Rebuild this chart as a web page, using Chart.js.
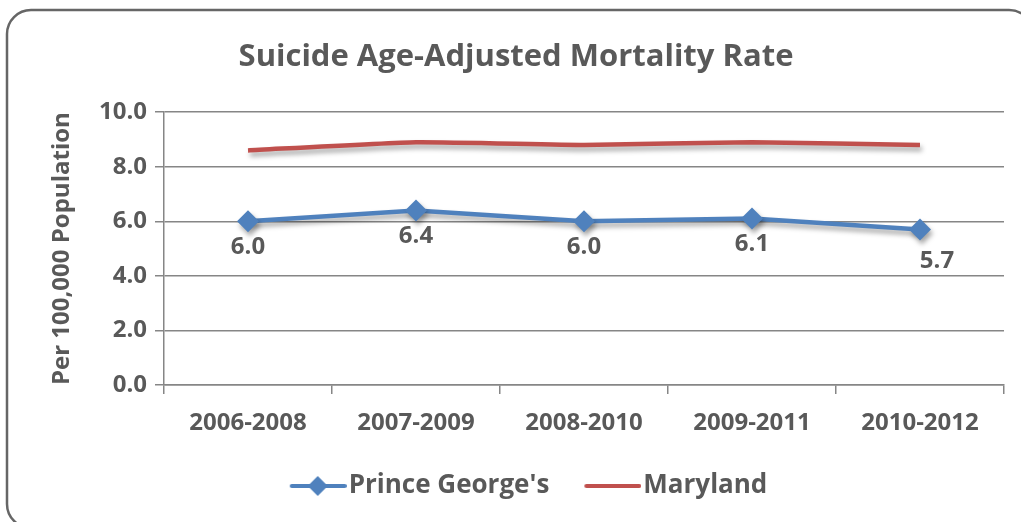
<!DOCTYPE html>
<html>
<head>
<meta charset="utf-8">
<script src="https://cdn.jsdelivr.net/npm/chart.js@4.4.0/dist/chart.umd.min.js"></script>
<style>
  html, body { margin: 0; padding: 0; background: #fff; }
  #wrap { width: 1021px; height: 522px; }
</style>
</head>
<body>
<div id="wrap"><canvas id="chart" width="1021" height="522"></canvas></div>
<script>
const periods = ['2006-2008', '2007-2009', '2008-2010', '2009-2011', '2010-2012'];
const princeGeorges = [6.0, 6.4, 6.0, 6.1, 5.7];
const maryland = [8.6, 8.9, 8.8, 8.9, 8.8];
const yTicks = [0, 2, 4, 6, 8, 10];

const textGrey = '#595959';
const blue = '#4F81BD';
const red = '#C0504D';
const fontFam = '"Open Sans", Lato, sans-serif';

// legend swatches: image is centred on a 71px box, the line sits at its right end
function swatch(color, withDiamond) {
  const c = document.createElement('canvas');
  c.width = 93; c.height = 22;
  const g = c.getContext('2d');
  g.strokeStyle = color;
  g.lineWidth = 4;
  g.lineCap = 'round';
  g.beginPath(); g.moveTo(38, 11); g.lineTo(91, 11); g.stroke();
  if (withDiamond) {
    g.fillStyle = color;
    g.beginPath();
    g.moveTo(64, 1); g.lineTo(74, 11); g.lineTo(64, 21); g.lineTo(54, 11);
    g.closePath(); g.fill();
  }
  return c;
}
const pgSwatch = swatch(blue, true);
const mdSwatch = swatch(red, false);

const frame = {
  id: 'frame',
  beforeDraw(chart) {
    const ctx = chart.ctx;
    ctx.save();
    ctx.fillStyle = '#fff';
    ctx.fillRect(0, 0, chart.width, chart.height);
    ctx.strokeStyle = '#666';
    ctx.lineWidth = 2.5;
    ctx.beginPath();
    ctx.roundRect(7, 10, 1026, 518, 24);
    ctx.stroke();
    ctx.restore();
  }
};

// soft shadow under both lines
const shadow = {
  id: 'shadow',
  beforeDatasetDraw(chart) {
    const ctx = chart.ctx;
    ctx.save();
    ctx.shadowColor = 'rgba(0,0,0,0.35)';
    ctx.shadowBlur = 5;
    ctx.shadowOffsetX = 2;
    ctx.shadowOffsetY = 4;
  },
  afterDatasetDraw(chart) {
    chart.ctx.restore();
  }
};

// value labels under Prince George's points
const valueLabels = {
  id: 'valueLabels',
  afterDatasetsDraw(chart) {
    const ctx = chart.ctx;
    const meta = chart.getDatasetMeta(0);
    ctx.save();
    ctx.font = 'bold 24px ' + fontFam;
    ctx.fillStyle = textGrey;
    ctx.textAlign = 'center';
    ctx.textBaseline = 'middle';
    meta.data.forEach((pt, i) => {
      const last = i === meta.data.length - 1;
      ctx.fillText(princeGeorges[i].toFixed(1), pt.x + (last ? 17 : 0), pt.y + (last ? 32 : 26));
    });
    ctx.restore();
  }
};

new Chart(document.getElementById('chart'), {
  type: 'line',
  data: {
    labels: periods,
    datasets: [{
      label: "Prince George's",
      data: princeGeorges,
      borderColor: blue,
      backgroundColor: blue,
      borderWidth: 4.5,
      pointStyle: 'rectRot',
      pointRadius: 11,
      pointBorderWidth: 0,
      tension: 0
    }, {
      label: 'Maryland',
      data: maryland,
      borderColor: red,
      backgroundColor: red,
      borderWidth: 4.5,
      pointRadius: 0,
      tension: 0.15
    }]
  },
  options: {
    responsive: false,
    animation: false,
    layout: { padding: { left: 28, right: 17, top: 28, bottom: 13 } },
    plugins: {
      title: {
        display: true,
        text: 'Suicide Age-Adjusted Mortality Rate',
        color: textGrey,
        font: { family: fontFam, size: 31, weight: 'bold' },
        padding: { top: 11, bottom: 36 }
      },
      legend: {
        position: 'bottom',
        labels: {
          color: textGrey,
          font: { family: fontFam, size: 26, weight: 'bold' },
          usePointStyle: true,
          pointStyleWidth: 71,
          padding: 10,
          generateLabels(chart) {
            return chart.data.datasets.map((ds, i) => ({
              text: ds.label,
              pointStyle: i === 0 ? pgSwatch : mdSwatch,
              fillStyle: ds.borderColor,
              strokeStyle: ds.borderColor,
              lineWidth: 0,
              fontColor: textGrey,
              datasetIndex: i,
              hidden: false
            }));
          }
        }
      },
      tooltip: { enabled: false }
    },
    scales: {
      x: {
        offset: true,
        grid: { display: true, drawOnChartArea: false, offset: true, color: '#868686', lineWidth: 1.5, tickLength: 9 },
        border: { color: '#868686', width: 1.5 },
        ticks: { color: textGrey, font: { family: fontFam, size: 24, weight: 'bold' }, padding: 15, maxRotation: 0 },
        afterFit(scale) { scale.height = 78; }
      },
      y: {
        min: 0,
        max: 10,
        afterBuildTicks(scale) { scale.ticks = yTicks.map(v => ({ value: v })); },
        grid: { color: '#868686', lineWidth: 1.5, tickLength: 9 },
        border: { color: '#868686', width: 1.5 },
        ticks: { color: textGrey, font: { family: fontFam, size: 24, weight: 'bold' }, padding: 8, callback: v => Number(v).toFixed(1) },
        title: { display: true, text: 'Per 100,000 Population', color: textGrey, font: { family: fontFam, size: 24, weight: 'bold' }, padding: { top: 20, bottom: 6 } },
        afterFit(scale) { scale.width = 136; }
      }
    }
  },
  plugins: [frame, shadow, valueLabels]
});
</script>
</body>
</html>
